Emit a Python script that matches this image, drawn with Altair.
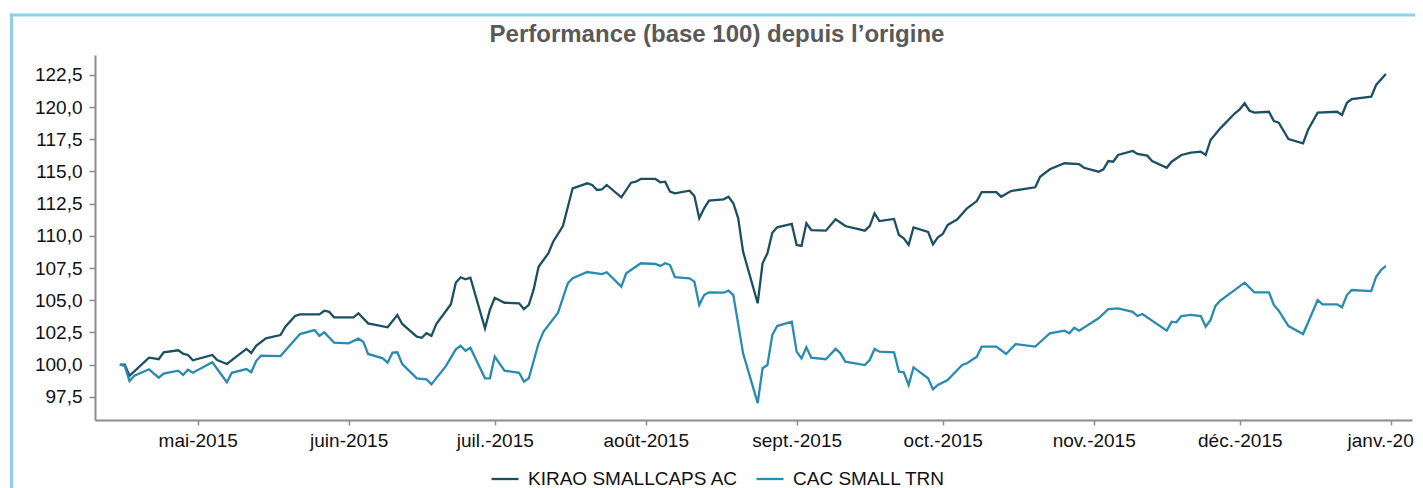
import altair as alt
import pandas as pd

TITLE = "Performance (base 100) depuis l\u2019origine"
SERIES = ["KIRAO SMALLCAPS AC", "CAC SMALL TRN"]
COLORS = ["#1d4f63", "#2a8bb0"]

kirao_dates = [
    "2015-04-15", "2015-04-16", "2015-04-17", "2015-04-21", "2015-04-22", "2015-04-23", "2015-04-24", "2015-04-27", "2015-04-28", "2015-04-29", "2015-04-30",
    "2015-05-04", "2015-05-05", "2015-05-07", "2015-05-11", "2015-05-12", "2015-05-13", "2015-05-15", "2015-05-18", "2015-05-19", "2015-05-21", "2015-05-22", "2015-05-26", "2015-05-27", "2015-05-28", "2015-05-29",
    "2015-06-02", "2015-06-03", "2015-06-05", "2015-06-09", "2015-06-11", "2015-06-12", "2015-06-15", "2015-06-16", "2015-06-17", "2015-06-18", "2015-06-19", "2015-06-22", "2015-06-23", "2015-06-24", "2015-06-25", "2015-06-26", "2015-06-29", "2015-06-30",
    "2015-07-01", "2015-07-03", "2015-07-06", "2015-07-07", "2015-07-08", "2015-07-09", "2015-07-10", "2015-07-12", "2015-07-13", "2015-07-15", "2015-07-17", "2015-07-20", "2015-07-21", "2015-07-22", "2015-07-23", "2015-07-24", "2015-07-27", "2015-07-29", "2015-07-30", "2015-07-31",
    "2015-08-03", "2015-08-04", "2015-08-05", "2015-08-06", "2015-08-07", "2015-08-10", "2015-08-11", "2015-08-12", "2015-08-13", "2015-08-14", "2015-08-17", "2015-08-18", "2015-08-19", "2015-08-20", "2015-08-21", "2015-08-24", "2015-08-25", "2015-08-26", "2015-08-27", "2015-08-28", "2015-08-31",
    "2015-09-01", "2015-09-02", "2015-09-03", "2015-09-04", "2015-09-07", "2015-09-09", "2015-09-11", "2015-09-15", "2015-09-16", "2015-09-17", "2015-09-18", "2015-09-21", "2015-09-22", "2015-09-23", "2015-09-24", "2015-09-25", "2015-09-28", "2015-09-29", "2015-09-30",
    "2015-10-01", "2015-10-02", "2015-10-04", "2015-10-06", "2015-10-08", "2015-10-09", "2015-10-12", "2015-10-13", "2015-10-15", "2015-10-20", "2015-10-21", "2015-10-23", "2015-10-26", "2015-10-29", "2015-10-30",
    "2015-11-02", "2015-11-03", "2015-11-04", "2015-11-05", "2015-11-06", "2015-11-09", "2015-11-10", "2015-11-12", "2015-11-13", "2015-11-16", "2015-11-17", "2015-11-19", "2015-11-21", "2015-11-23", "2015-11-24", "2015-11-25", "2015-11-27", "2015-11-30",
    "2015-12-01", "2015-12-02", "2015-12-03", "2015-12-04", "2015-12-07", "2015-12-08", "2015-12-09", "2015-12-11", "2015-12-14", "2015-12-15", "2015-12-17", "2015-12-21", "2015-12-22", "2015-12-23", "2015-12-24", "2015-12-28", "2015-12-29", "2015-12-31",
]
kirao_values = [
    100.0, 100.0, 99.13, 100.53, 100.48, 100.41, 100.95, 101.11, 100.84, 100.74, 100.33,
    100.74, 100.35, 100.04, 101.21, 100.9, 101.46, 102.04, 102.29, 102.94, 103.77, 103.9, 103.9, 104.18, 104.1, 103.67,
    103.67, 103.98, 103.2, 102.89, 103.85, 103.15, 102.16, 102.08, 102.43, 102.22, 103.15, 104.68, 106.36, 106.78, 106.62, 106.75, 102.81, 104.24,
    105.19, 104.8, 104.76, 104.31, 104.63, 105.84, 107.6, 108.64, 109.54, 110.76, 113.69, 114.08, 113.95, 113.56, 113.6, 113.95, 112.99, 114.13, 114.21, 114.42,
    114.42, 114.16, 114.21, 113.43, 113.3, 113.51, 113.09, 111.36, 112.14, 112.73, 112.84, 113.04, 112.53, 111.36, 108.77, 104.76, 107.87, 108.64, 110.24, 110.66, 110.92,
    109.29, 109.21, 110.97, 110.45, 110.4, 111.28, 110.76, 110.4, 110.76, 111.75, 111.15, 111.31, 110.06, 109.81, 109.29, 110.66, 110.3, 109.34, 109.89,
    110.14, 110.84, 111.28, 112.14, 112.7, 113.4, 113.4, 113.04, 113.48, 113.77, 114.59, 115.17, 115.64, 115.58, 115.29,
    114.98, 115.17, 115.81, 115.76, 116.28, 116.59, 116.36, 116.23, 115.81, 115.29, 115.76, 116.28, 116.46, 116.54, 116.28, 117.45, 118.35, 119.52,
    119.83, 120.3, 119.72, 119.57, 119.64, 118.92, 118.79, 117.52, 117.19, 118.22, 119.57, 119.64, 119.39, 120.34, 120.63, 120.81, 121.72, 122.57,
]

cac_dates = [
    "2015-04-15", "2015-04-16", "2015-04-17", "2015-04-18", "2015-04-21", "2015-04-23", "2015-04-24", "2015-04-27", "2015-04-28", "2015-04-29", "2015-04-30",
    "2015-05-04", "2015-05-07", "2015-05-08", "2015-05-11", "2015-05-12", "2015-05-13", "2015-05-14", "2015-05-18", "2015-05-20", "2015-05-22", "2015-05-25", "2015-05-26", "2015-05-27", "2015-05-28", "2015-05-29",
    "2015-06-01", "2015-06-03", "2015-06-04", "2015-06-05", "2015-06-08", "2015-06-09", "2015-06-10", "2015-06-11", "2015-06-12", "2015-06-15", "2015-06-17", "2015-06-18", "2015-06-21", "2015-06-23", "2015-06-24", "2015-06-25", "2015-06-26", "2015-06-29", "2015-06-30",
    "2015-07-01", "2015-07-03", "2015-07-06", "2015-07-07", "2015-07-08", "2015-07-10", "2015-07-11", "2015-07-14", "2015-07-16", "2015-07-17", "2015-07-20", "2015-07-23", "2015-07-24", "2015-07-27", "2015-07-28", "2015-07-31",
    "2015-08-03", "2015-08-04", "2015-08-05", "2015-08-06", "2015-08-07", "2015-08-10", "2015-08-11", "2015-08-12", "2015-08-13", "2015-08-14", "2015-08-17", "2015-08-18", "2015-08-19", "2015-08-21", "2015-08-24", "2015-08-25", "2015-08-26", "2015-08-27", "2015-08-28", "2015-08-31",
    "2015-09-01", "2015-09-02", "2015-09-03", "2015-09-04", "2015-09-07", "2015-09-09", "2015-09-10", "2015-09-11", "2015-09-15", "2015-09-16", "2015-09-17", "2015-09-18", "2015-09-21", "2015-09-22", "2015-09-23", "2015-09-24", "2015-09-25", "2015-09-28", "2015-09-29", "2015-09-30",
    "2015-10-02", "2015-10-05", "2015-10-06", "2015-10-08", "2015-10-09", "2015-10-12", "2015-10-14", "2015-10-16", "2015-10-20", "2015-10-23", "2015-10-26", "2015-10-27", "2015-10-28", "2015-10-29",
    "2015-11-02", "2015-11-04", "2015-11-06", "2015-11-09", "2015-11-10", "2015-11-11", "2015-11-16", "2015-11-17", "2015-11-18", "2015-11-19", "2015-11-21", "2015-11-23", "2015-11-24", "2015-11-25", "2015-11-26", "2015-11-27",
    "2015-12-02", "2015-12-04", "2015-12-07", "2015-12-08", "2015-12-09", "2015-12-11", "2015-12-14", "2015-12-17", "2015-12-18", "2015-12-21", "2015-12-22", "2015-12-23", "2015-12-24", "2015-12-28", "2015-12-29", "2015-12-30", "2015-12-31",
]
cac_values = [
    100.0, 99.9, 98.72, 99.13, 99.63, 98.98, 99.29, 99.52, 99.19, 99.6, 99.36,
    100.17, 98.62, 99.36, 99.65, 99.4, 100.27, 100.69, 100.66, 101.52, 102.37, 102.68, 102.22, 102.5, 102.1, 101.7,
    101.65, 102.01, 101.77, 100.82, 100.48, 100.14, 100.92, 100.95, 100.04, 98.93, 98.85, 98.46, 99.89, 101.18, 101.46, 101.07, 101.31, 98.93, 98.93,
    100.61, 99.52, 99.36, 98.67, 98.93, 101.65, 102.55, 104.03, 106.31, 106.7, 107.19, 107.03, 107.17, 106.05, 107.09, 107.87,
    107.81, 107.66, 107.87, 107.73, 106.78, 106.7, 106.44, 104.63, 105.4, 105.61, 105.58, 105.74, 105.4, 100.87, 97.0, 99.71, 99.96, 102.29, 102.99, 103.33,
    101.0, 100.48, 101.34, 100.53, 100.41, 101.21, 100.87, 100.22, 99.96, 100.35, 101.21, 101.0, 100.95, 99.44, 99.4, 98.41, 99.78, 98.93, 98.07, 98.41,
    98.8, 99.96, 100.1, 100.6, 101.39, 101.39, 100.82, 101.59, 101.39, 102.43, 102.63, 102.43, 102.86, 102.63,
    103.59, 104.31, 104.37, 104.1, 103.77, 103.93, 102.63, 103.33, 103.28, 103.77, 103.85, 103.77, 102.94, 103.46, 104.55, 104.96,
    106.36, 105.61, 105.61, 104.63, 104.18, 102.99, 102.37, 105.01, 104.68, 104.68, 104.45, 105.4, 105.79, 105.71, 106.82, 107.34, 107.66,
]

month_ticks = ["2015-05-01", "2015-06-01", "2015-07-01", "2015-08-01", "2015-09-01",
               "2015-10-01", "2015-11-01", "2015-12-01", "2016-01-01"]
y_ticks = [97.5, 100.0, 102.5, 105.0, 107.5, 110.0, 112.5, 115.0, 117.5, 120.0, 122.5]
x_range = ["2015-04-09T21:50:00", "2016-01-05T08:53:00"]
y_range = [95.69, 124.05]

assert len(kirao_dates) == len(kirao_values)
assert len(cac_dates) == len(cac_values)


def to_ms(s):
    return int(pd.Timestamp(s, tz="UTC").value // 10**6)


df = pd.concat([
    pd.DataFrame({"date": kirao_dates, "value": kirao_values, "series": SERIES[0]}),
    pd.DataFrame({"date": cac_dates, "value": cac_values, "series": SERIES[1]}),
], ignore_index=True)

FONT = "Liberation Sans"
AXIS_GRAY = "#8c8c8c"
BORDER = "#8dd0e8"

months_fr = "['janv.','févr.','mars','avr.','mai','juin','juil.','août','sept.','oct.','nov.','déc.']"

W, H = 1317, 365

lines = alt.Chart(df).mark_line(strokeWidth=2.3, interpolate="linear").encode(
    x=alt.X(
        "date:T",
        scale=alt.Scale(type="utc", domain=[to_ms(v) for v in x_range]),
        axis=alt.Axis(
            title=None, grid=False, values=[to_ms(v) for v in month_ticks],
            labelExpr=months_fr + "[utcmonth(datum.value)] + '-' + utcyear(datum.value)",
            domainColor=AXIS_GRAY, domainWidth=2, tickColor=AXIS_GRAY, tickWidth=1.5,
            tickSize=5, labelPadding=6, labelFont=FONT, labelFontSize=19,
            labelColor="#111111", labelOverlap=False, labelFlush=False,
        ),
    ),
    y=alt.Y(
        "value:Q",
        scale=alt.Scale(domain=y_range, nice=False, zero=False),
        axis=alt.Axis(
            title=None, grid=False, values=y_ticks,
            labelExpr="replace(format(datum.value, '.1f'), '.', ',')",
            domainColor=AXIS_GRAY, domainWidth=2, tickColor=AXIS_GRAY, tickWidth=1.5,
            tickSize=6, labelPadding=7, labelFont=FONT, labelFontSize=19,
            labelColor="#111111", labelOverlap=False, labelFlush=False,
        ),
    ),
    color=alt.Color(
        "series:N",
        scale=alt.Scale(domain=SERIES, range=COLORS),
        sort=SERIES,
        legend=alt.Legend(
            title=None, orient="none", direction="horizontal",
            legendX=395, legendY=409, symbolType="stroke", symbolSize=729,
            symbolStrokeWidth=2.3, labelFont=FONT, labelFontSize=19,
            labelColor="#111111", labelOffset=8, labelLimit=400,
            columnPadding=12, padding=0,
        ),
    ),
    order=alt.Order("date:T"),
)

border_top = alt.Chart(alt.Data(values=[{"b": 0}])).mark_rule(
    color=BORDER, strokeWidth=3
).encode(x=alt.value(-85), x2=alt.value(W + 40), y=alt.value(-40))

border_left = alt.Chart(alt.Data(values=[{"b": 0}])).mark_rule(
    color=BORDER, strokeWidth=3
).encode(x=alt.value(-83.5), y=alt.value(-41.5), y2=alt.value(H + 80))

title = alt.Chart(alt.Data(values=[{"label": TITLE}])).mark_text(
    font=FONT, fontSize=24, fontWeight="bold", color="#595959",
    align="center", baseline="alphabetic"
).encode(x=alt.value(622), y=alt.value(-13.3), text="label:N")

chart = alt.layer(border_top, border_left, lines, title).properties(
    width=W, height=H,
    autosize=alt.AutoSizeParams(type="none"),
    padding={"left": 87, "top": 47, "right": 3, "bottom": 70},
).configure_view(stroke=None, strokeWidth=0)

chart.save("out.html", embed_options={"renderer": "svg", "actions": False})
